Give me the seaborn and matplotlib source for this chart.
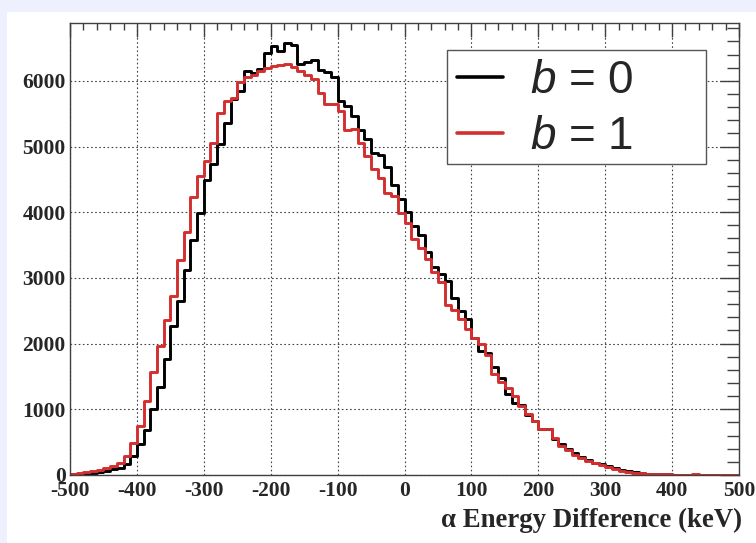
import numpy as np
import pandas as pd
import matplotlib
matplotlib.use("Agg")
import matplotlib.pyplot as plt
import seaborn as sns
from matplotlib.patches import Rectangle
from matplotlib.ticker import MultipleLocator

# ---- data: 10 keV bins from -500 to 500 ----
bin_edges = list(range(-500, 501, 10))

counts_b0 = [
    8, 12, 30, 38, 45, 65, 90, 110, 170, 295,
    470, 690, 1001, 1347, 1769, 2262, 2644, 3116, 3574, 3991,
    4490, 4735, 5034, 5365, 5720, 5847, 6153, 6117, 6178, 6417,
    6534, 6458, 6574, 6544, 6254, 6280, 6320, 6168, 6127, 6055,
    5695, 5619, 5466, 5258, 5111, 4908, 4878, 4687, 4420, 4208,
    4010, 3792, 3655, 3396, 3173, 3056, 2954, 2700, 2497, 2382,
    2090, 1888, 1862, 1640, 1470, 1230, 1100, 1060, 920, 820,
    700, 700, 545, 470, 400, 335, 280, 230, 190, 160,
    130, 100, 70, 55, 40, 30, 20, 15, 10, 8,
    6, 5, 5, 4, 4, 3, 3, 2, 2, 1,
]

counts_b1 = [
    15, 25, 40, 55, 75, 100, 135, 190, 290, 493,
    747, 1129, 1561, 1967, 2364, 2720, 3279, 3696, 4225, 4550,
    4780, 5059, 5507, 5695, 5746, 5985, 6051, 6092, 6142, 6188,
    6219, 6239, 6254, 6203, 6153, 6086, 6025, 5822, 5644, 5644,
    5545, 5255, 5263, 5060, 4850, 4660, 4515, 4290, 4250, 3985,
    3832, 3599, 3452, 3284, 3091, 2939, 2589, 2513, 2371, 2228,
    2088, 1997, 1820, 1532, 1420, 1329, 1203, 1051, 935, 823,
    700, 697, 561, 444, 383, 306, 255, 219, 179, 153,
    128, 87, 66, 51, 36, 36, 15, 15, 10, 8,
    6, 5, 5, 8, 4, 3, 3, 2, 2, 1,
]

series_labels = ["$b$ = 0", "$b$ = 1"]
series_colors = ["#000000", "#d32f2f"]
x_ticks = list(range(-500, 501, 100))
y_ticks = list(range(0, 6001, 1000))

edges = np.array(bin_edges, dtype=float)
centers = (edges[:-1] + edges[1:]) / 2
df = pd.concat([
    pd.DataFrame({"x": centers, "w": counts_b0, "s": series_labels[0]}),
    pd.DataFrame({"x": centers, "w": counts_b1, "s": series_labels[1]}),
], ignore_index=True)

# ---- style ----
sns.set_style("white")
plt.rcParams["font.family"] = ["Liberation Serif", "DejaVu Serif"]
plt.rcParams["axes.unicode_minus"] = False
plt.rcParams["mathtext.fontset"] = "custom"
plt.rcParams["mathtext.rm"] = "Liberation Sans"
plt.rcParams["mathtext.it"] = "Liberation Sans:italic"

W, H = 756, 543
fig = plt.figure(figsize=(7.56, 5.43), dpi=100, facecolor="#eef1fd")
fig.patches.append(Rectangle((7 / W, 0), 1, 1 - 12 / H, transform=fig.transFigure,
                             facecolor="white", edgecolor="none", zorder=-10))
ax = fig.add_axes([70 / W, 1 - 475 / H, (739 - 70) / W, (475 - 23) / H])
ax.set_zorder(1)
ax.set_facecolor("white")

for lab, col in zip(series_labels, series_colors):
    sub = df[df["s"] == lab].reset_index(drop=True)
    sns.histplot(data=sub, x="x", weights="w", bins=bin_edges, element="step", fill=False,
                 color=col, linewidth=2.1, ax=ax, label=lab)

ax.set_xlim(-500, 500)
ax.set_ylim(0, 6880)
ax.set_xticks(x_ticks)
ax.set_yticks(y_ticks)
ax.xaxis.set_minor_locator(MultipleLocator(20))
ax.yaxis.set_minor_locator(MultipleLocator(200))
ax.set_xlabel("")
ax.set_ylabel("")

for sp in ax.spines.values():
    sp.set_color("#404040")
    sp.set_linewidth(1.0)

ax.tick_params(which="both", direction="in", top=True, right=True, color="#404040")
ax.tick_params(axis="x", which="major", length=10, width=1.0, pad=4)
ax.tick_params(axis="x", which="minor", length=5, width=1.0)
ax.tick_params(axis="y", which="major", length=14, width=1.0, pad=3)
ax.tick_params(axis="y", which="minor", length=8.5, width=1.0)
for t in ax.get_xticklabels() + ax.get_yticklabels():
    t.set_fontweight("bold")
    t.set_fontsize(15.5)
    t.set_fontfamily(["Liberation Serif", "DejaVu Serif"])

ax.grid(True, which="major", linestyle=(0, (1.5, 2.2)), color="#444444", linewidth=0.8)
ax.set_axisbelow(True)

fig.text(742 / W, 1 - 520 / H, "α Energy Difference (keV)", ha="right", va="center",
         fontsize=19.3, fontweight="bold", family=["Liberation Serif", "DejaVu Serif"])

# legend frame drawn as a separate box, legend entries without frame
ax.add_patch(Rectangle((447 / W, 1 - 164 / H), (706 - 447) / W, (164 - 50) / H,
                       transform=fig.transFigure, facecolor="white", edgecolor="#555555",
                       linewidth=1.0, zorder=4, clip_on=False))
leg = ax.legend(loc="upper left",
                bbox_to_anchor=(457 / W, 1 - 59 / H - 0.01, (700 - 457) / W, 0.01),
                bbox_transform=fig.transFigure, mode="expand", borderaxespad=0,
                frameon=False, prop={"family": "Liberation Sans", "size": 33},
                handlelength=1.0, handletextpad=0.6, labelspacing=0.27, borderpad=0.0)
leg.set_zorder(5)
for h in leg.get_lines():
    h.set_linewidth(2.6)

fig.savefig("out.png", dpi=100, facecolor=fig.get_facecolor())
